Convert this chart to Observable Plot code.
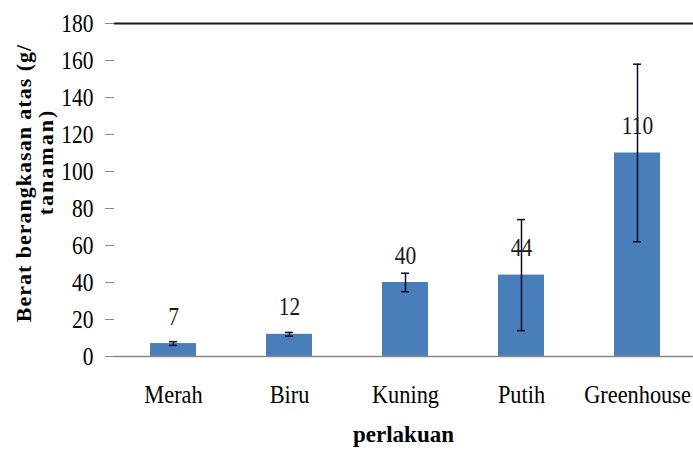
<!DOCTYPE html>
<html>
<head>
<meta charset="utf-8">
<script src="https://cdn.jsdelivr.net/npm/d3@7"></script>
<script src="https://cdn.jsdelivr.net/npm/@observablehq/plot@0.6"></script>
<style>
  html, body { margin: 0; padding: 0; background: #fff; overflow: hidden; }
  #chart svg text { font-family: "Liberation Serif", "Times New Roman", serif !important; font-variant: normal !important; font-variant-numeric: normal !important; }
</style>
</head>
<body>
<div id="chart"></div>
<script>
const categories = ["Merah", "Biru", "Kuning", "Putih", "Greenhouse"];
const values = [7, 12, 40, 44, 110];
const errors = [1, 1, 5, 30, 48];
const valueLabels = ["7", "12", "40", "44", "110"];
const yTicks = [0, 20, 40, 60, 80, 100, 120, 140, 160, 180];
const xTitle = "perlakuan";
const yTitleLines = ["Berat berangkasan atas (g/", "tanaman)"];

const data = categories.map((c, i) => ({
  c, v: values[i], lo: values[i] - errors[i], hi: values[i] + errors[i], label: valueLabels[i]
}));

const serif = "'Liberation Serif', 'Times New Roman', serif";
const errColor = "#0b0b22";

const chart = Plot.plot({
  width: 693,
  height: 453,
  marginTop: 23,
  marginBottom: 97,
  marginLeft: 114,
  marginRight: 0,
  style: { fontFamily: serif, background: "#fff", color: "#000" },
  x: { domain: categories, paddingInner: 0.6, paddingOuter: 0.3, range: [114, 697] },
  y: { domain: [0, 180], range: [356, 23] },
  marks: [
    Plot.barY(data, { x: "c", y: "v", fill: "#4a7ebb" }),
    Plot.ruleY([0], { stroke: "#868686", strokeWidth: 1.5 }),
    Plot.ruleY([180], { stroke: "#1a1a1a", strokeWidth: 2 }),
    Plot.axisY({
      ticks: yTicks, tickSize: 9, tickPadding: 12, line: true,
      stroke: "#868686", fill: "#000", fontSize: 25, label: null,
      tickFormat: d => String(d)
    }),
    Plot.axisX({ tickSize: 0, tickPadding: 28, fontSize: 26, fill: "#000", label: null }),
    Plot.ruleX(data, { x: "c", y1: "lo", y2: "hi", stroke: errColor, strokeWidth: 1.5 }),
    Plot.tickY(data, { x: "c", y: "lo", stroke: errColor, strokeWidth: 1.5, insetLeft: 19, insetRight: 19 }),
    Plot.tickY(data, { x: "c", y: "hi", stroke: errColor, strokeWidth: 1.5, insetLeft: 19, insetRight: 19 }),
    Plot.text(data, { x: "c", y: "v", text: "label", dy: -27, fontSize: 25, fill: "#1a1a1a" })
  ]
});

// Slightly condensed look of the original serif text
d3.select(chart).selectAll("text").each(function () {
  const t = this.getAttribute("transform") || "";
  this.setAttribute("transform", (t + " scale(0.86,1)").trim());
});

const svg = d3.select(chart);
// x-axis title
svg.append("text")
  .attr("x", (114 + 693) / 2)
  .attr("y", 442)
  .attr("text-anchor", "middle")
  .attr("font-weight", "bold")
  .attr("font-size", 23)
  .text(xTitle);

// y-axis title (two wrapped lines)
const yPos = [[31, 183], [53, 162]];
const ySpacing = [1, 2];
yTitleLines.forEach((line, i) => {
  svg.append("text")
    .attr("transform", `translate(${yPos[i][0]},${yPos[i][1]}) rotate(-90)`)
    .attr("text-anchor", "middle")
    .attr("font-weight", "bold")
    .attr("font-size", 22)
    .attr("letter-spacing", ySpacing[i])
    .text(line);
});

document.getElementById("chart").appendChild(chart);
</script>
</body>
</html>
